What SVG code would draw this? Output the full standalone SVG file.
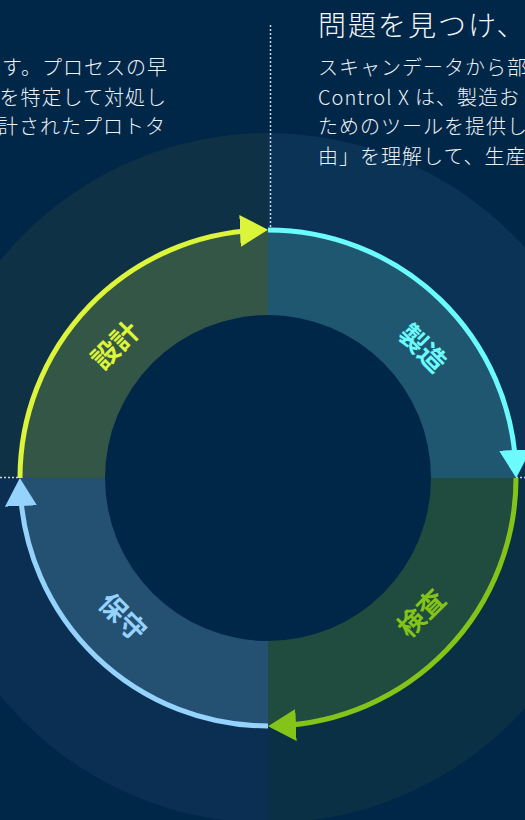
<svg xmlns="http://www.w3.org/2000/svg" width="525" height="820" viewBox="0 0 525 820">
<style>
.body{font-family:"Noto Sans CJK JP","Noto Sans",sans-serif;font-size:20px;letter-spacing:1px;fill:#eef2f6;font-weight:300}
.head{font-family:"Noto Sans CJK JP","Noto Sans",sans-serif;font-size:28px;letter-spacing:2px;fill:#f4f7fa;font-weight:300}
.lbl{font-family:"Noto Sans CJK JP","Noto Sans",sans-serif;font-size:27px;font-weight:700;text-anchor:middle;dominant-baseline:central}
.arc{fill:none;stroke-width:5}
.dot{stroke:#c9d3dc;stroke-width:1.5;stroke-dasharray:2 2;fill:none}
</style>
<defs>
<marker id="ah-y" markerUnits="userSpaceOnUse" viewBox="0 0 28 32" markerWidth="28" markerHeight="32" refX="18" refY="16" orient="auto"><path d="M0,0 L28,16 L0,32 Z" fill="#dcf43a"/></marker>
<marker id="ah-c" markerUnits="userSpaceOnUse" viewBox="0 0 28 32" markerWidth="28" markerHeight="32" refX="18" refY="16" orient="auto"><path d="M0,0 L28,16 L0,32 Z" fill="#6cfbfd"/></marker>
<marker id="ah-g" markerUnits="userSpaceOnUse" viewBox="0 0 28 32" markerWidth="28" markerHeight="32" refX="18" refY="16" orient="auto"><path d="M0,0 L28,16 L0,32 Z" fill="#84c418"/></marker>
<marker id="ah-b" markerUnits="userSpaceOnUse" viewBox="0 0 28 32" markerWidth="28" markerHeight="32" refX="18" refY="16" orient="auto"><path d="M0,0 L28,16 L0,32 Z" fill="#95d3fd"/></marker>
</defs>
<rect x="0" y="0" width="525" height="820" fill="#002648"/>

<g id="background-disc">
<path d="M268,478 L-77,478 A345,345 0 0 1 268,133 Z" fill="#0f3146"/>
<path d="M268,478 L268,133 A345,345 0 0 1 613,478 Z" fill="#0a3355"/>
<path d="M268,478 L613,478 A345,345 0 0 1 268,823 Z" fill="#0a3046"/>
<path d="M268,478 L268,823 A345,345 0 0 1 -77,478 Z" fill="#0b2f53"/>
</g>

<g id="guides">
<line class="dot" x1="270.5" y1="25" x2="270.5" y2="478"/>
<line class="dot" x1="0" y1="477.5" x2="525" y2="477.5"/>
</g>

<g id="text-left">
<text class="body" text-anchor="end" x="168" y="75">す。プロセスの早</text>
<text class="body" text-anchor="end" x="167" y="104.5">を特定して対処し</text>
<text class="body" text-anchor="end" x="166" y="134">計されたプロトタ</text>
</g>

<g id="text-right">
<text class="head" x="318" y="36">問題を見つけ、</text>
<text class="body" x="318" y="75">スキャンデータから部</text>
<text class="body" x="318" y="104.5">Control X は、製造お</text>
<text class="body" x="318" y="134">ためのツールを提供し</text>
<text class="body" x="318" y="163.5">由」を理解して、生産</text>
</g>

<g id="node-design">
<path d="M268,478 L20,478 A248,248 0 0 1 268,230 Z" fill="#345647"/>
<text class="lbl" fill="#dcf43a" transform="translate(114,344) rotate(-45)">設計</text>
</g>
<g id="node-manufacture">
<path d="M268,478 L268,230 A248,248 0 0 1 516,478 Z" fill="#1f5770"/>
<text class="lbl" fill="#6cfbfd" transform="translate(424,347) rotate(45)">製造</text>
</g>
<g id="node-inspection">
<path d="M268,478 L516,478 A248,248 0 0 1 268,726 Z" fill="#1f4c3f"/>
<text class="lbl" fill="#84c418" transform="translate(420,612) rotate(-45)">検査</text>
</g>
<g id="node-maintenance">
<path d="M268,478 L268,726 A248,248 0 0 1 20,478 Z" fill="#245072"/>
<text class="lbl" fill="#95d3fd" transform="translate(124,616) rotate(45)">保守</text>
</g>
<circle id="hub" cx="268" cy="478" r="163" fill="#002648"/>

<g id="connectors">
<path class="arc" stroke="#dcf43a" marker-end="url(#ah-y)" d="M20,478 A248,248 0 0 1 258,230.2"/>
<path class="arc" stroke="#6cfbfd" marker-end="url(#ah-c)" d="M268,230 A248,248 0 0 1 515.8,468"/>
<path class="arc" stroke="#84c418" marker-end="url(#ah-g)" d="M516,478 A248,248 0 0 1 278,725.8"/>
<path class="arc" stroke="#95d3fd" marker-end="url(#ah-b)" d="M268,726 A248,248 0 0 1 20.2,488"/>
</g>
</svg>
